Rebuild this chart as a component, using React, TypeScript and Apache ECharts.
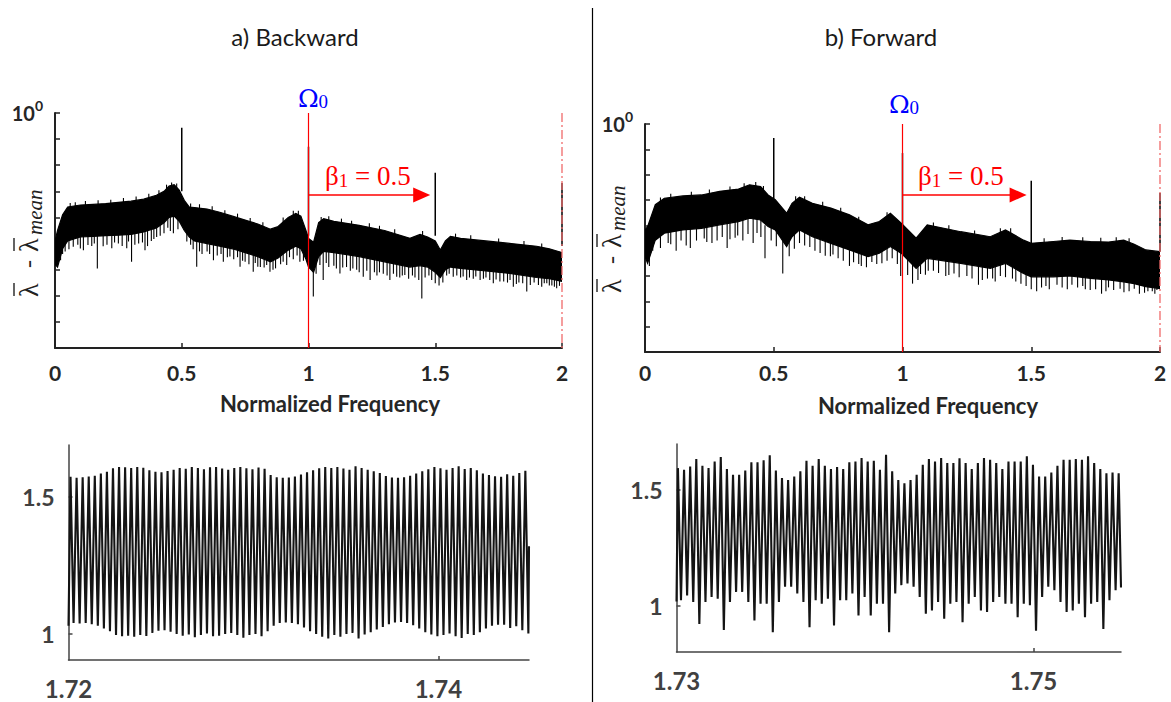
import React, { useEffect, useRef } from "react";
import * as echarts from "echarts";

const SANS = "Lato, 'Open Sans', sans-serif";
const SERIF = "'Liberation Serif', 'DejaVu Serif', serif";
const GREEK = "'DejaVu Serif', 'Liberation Serif', serif";

// ---------- top panels: spectra (log amplitude) ----------
const Y_MIN = 1e-9;
const Y_MAX = 1;
const FREQ_TICKS_INTERVAL = 0.5;

// a) Backward: dense band envelope
const bwBandFreq = [0, 0.01, 0.03, 0.05, 0.1, 0.15, 0.2, 0.25, 0.3, 0.35, 0.4, 0.43, 0.45, 0.47, 0.49, 0.51, 0.53, 0.55, 0.6, 0.65, 0.7, 0.75, 0.8, 0.85, 0.88, 0.92, 0.95, 0.97, 0.99, 1.0, 1.02, 1.04, 1.06, 1.1, 1.2, 1.3, 1.4, 1.44, 1.47, 1.5, 1.52, 1.54, 1.56, 1.6, 1.7, 1.8, 1.9, 1.95, 2.0];
const bwBandUpper = [1.26e-5, 3.16e-5, 1.26e-4, 2.51e-4, 3.0e-4, 3.16e-4, 3.4e-4, 3.8e-4, 4.2e-4, 5.0e-4, 7.1e-4, 1.0e-3, 1.58e-3, 1.78e-3, 1.12e-3, 4.5e-4, 2.5e-4, 2.4e-4, 2.1e-4, 1.58e-4, 1.12e-4, 7.9e-5, 5.6e-5, 3.55e-5, 4.5e-5, 1.0e-4, 1.41e-4, 1.12e-4, 3.16e-5, 1.58e-5, 1.12e-5, 6.3e-5, 8.9e-5, 7.1e-5, 5.0e-5, 3.16e-5, 1.58e-5, 2.24e-5, 1.78e-5, 1.26e-5, 5.6e-6, 1.26e-5, 1.9e-5, 1.58e-5, 1.26e-5, 1.0e-5, 7.9e-6, 6.3e-6, 4.5e-6];
const bwBandLower = [1.58e-6, 1.26e-6, 6.3e-6, 1.26e-5, 1.78e-5, 1.9e-5, 2.0e-5, 2.1e-5, 2.24e-5, 2.8e-5, 4.0e-5, 6.3e-5, 1.0e-4, 1.12e-4, 7.1e-5, 3.16e-5, 1.78e-5, 1.26e-5, 1.0e-5, 7.9e-6, 6.3e-6, 4.5e-6, 3.16e-6, 2.0e-6, 2.8e-6, 5.6e-6, 7.9e-6, 6.3e-6, 2.5e-6, 1.26e-6, 7.9e-7, 3.16e-6, 5.0e-6, 4.5e-6, 3.16e-6, 2.0e-6, 1.26e-6, 1.41e-6, 1.26e-6, 7.9e-7, 5.0e-7, 1.0e-6, 1.26e-6, 1.12e-6, 8.9e-7, 7.1e-7, 5.0e-7, 4.5e-7, 3.55e-7];
// downward noise spikes [freq, lowest value]
const bwSpikes = [[0.022, 2.3e-6], [0.03, 4e-6], [0.04, 5e-6], [0.055, 6e-6], [0.072, 7.6e-6], [0.09, 9e-6], [0.1, 6.5e-6], [0.112, 5.6e-6], [0.13, 8.9e-6], [0.145, 8e-6], [0.155, 1e-5], [0.167, 1.12e-6], [0.19, 7.9e-6], [0.205, 9e-6], [0.224, 6.6e-6], [0.235, 1.1e-5], [0.25, 1e-5], [0.265, 8e-6], [0.283, 6.6e-6], [0.29, 1.2e-5], [0.302, 2.0e-6], [0.315, 9e-6], [0.33, 1e-5], [0.345, 1.1e-5], [0.355, 5.6e-6], [0.365, 8e-6], [0.38, 1.26e-5], [0.39, 1.5e-5], [0.401, 1.8e-5], [0.415, 2e-5], [0.43, 2.5e-5], [0.445, 4e-5], [0.455, 3e-5], [0.467, 2.5e-5], [0.485, 3.5e-5], [0.52, 1.2e-5], [0.535, 9e-6], [0.545, 6e-6], [0.559, 1.3e-6], [0.57, 5e-6], [0.58, 4e-6], [0.6, 5e-6], [0.61, 4e-6], [0.625, 2.3e-6], [0.64, 3.5e-6], [0.655, 4e-6], [0.664, 2.0e-6], [0.68, 3e-6], [0.69, 3.2e-6], [0.705, 2.5e-6], [0.72, 3e-6], [0.73, 1.3e-6], [0.74, 2.2e-6], [0.75, 2e-6], [0.765, 1.6e-6], [0.782, 8.3e-7], [0.79, 1.8e-6], [0.8, 1.3e-6], [0.81, 1.26e-6], [0.825, 1.2e-6], [0.835, 1.5e-6], [0.848, 8.3e-7], [0.86, 1e-6], [0.87, 1.12e-6], [0.89, 1.6e-6], [0.9, 2e-6], [0.914, 1.5e-6], [0.925, 3e-6], [0.94, 2.5e-6], [0.955, 3.5e-6], [0.966, 2.0e-6], [0.98, 2.2e-6], [1.019, 9.3e-8], [1.03, 7e-7], [1.045, 1.5e-6], [1.058, 4.0e-7], [1.07, 1.8e-6], [1.08, 1.26e-6], [1.1, 1.4e-6], [1.11, 1.1e-6], [1.124, 7.2e-7], [1.135, 1.2e-6], [1.15, 1.26e-6], [1.165, 9e-7], [1.175, 1.1e-6], [1.19, 1e-6], [1.2, 8e-7], [1.216, 5.4e-7], [1.23, 9e-7], [1.243, 4.0e-7], [1.26, 8e-7], [1.27, 6e-7], [1.28, 7.9e-7], [1.295, 7e-7], [1.31, 6e-7], [1.321, 4.0e-7], [1.335, 7e-7], [1.348, 5.4e-7], [1.36, 5e-7], [1.37, 6e-7], [1.38, 6.3e-7], [1.395, 4.5e-7], [1.41, 6e-7], [1.42, 5e-7], [1.435, 4e-7], [1.447, 7.9e-8], [1.46, 5e-7], [1.475, 6e-7], [1.486, 4.0e-7], [1.5, 3e-7], [1.515, 2.5e-7], [1.53, 3.2e-7], [1.545, 6e-7], [1.555, 7e-7], [1.571, 5.4e-7], [1.585, 6e-7], [1.6, 5e-7], [1.61, 5.5e-7], [1.624, 4.0e-7], [1.635, 5e-7], [1.65, 4.5e-7], [1.66, 5.5e-7], [1.677, 4.0e-7], [1.69, 4.5e-7], [1.7, 5e-7], [1.715, 4e-7], [1.729, 3.0e-7], [1.74, 4.2e-7], [1.755, 3.5e-7], [1.77, 3.55e-7], [1.785, 3.2e-7], [1.795, 4e-7], [1.808, 2.2e-7], [1.82, 2.8e-7], [1.83, 3.2e-7], [1.845, 3e-7], [1.861, 1.45e-7], [1.875, 2.6e-7], [1.89, 3.2e-7], [1.907, 2.6e-7], [1.92, 2.2e-7], [1.93, 3e-7], [1.94, 3.0e-7], [1.95, 2.5e-7], [1.96, 2.5e-7], [1.97, 2.2e-7], [1.979, 1.95e-7], [1.99, 2.4e-7]];
// ragged upper edge [freq, highest value]
const bwFuzz = [[0.06, 3.6e-4], [0.08, 3.8e-4], [0.12, 4.3e-4], [0.17, 4.6e-4], [0.22, 4.8e-4], [0.27, 5.6e-4], [0.32, 6.3e-4], [0.37, 8.0e-4], [0.41, 1.1e-3], [0.44, 1.8e-3], [0.46, 2.2e-3], [0.48, 2.0e-3], [0.535, 3.4e-4], [0.57, 3.2e-4], [0.62, 2.7e-4], [0.67, 1.9e-4], [0.72, 1.4e-4], [0.77, 9.5e-5], [0.82, 6.5e-5], [0.9, 1.0e-4], [0.94, 1.8e-4], [0.96, 1.8e-4], [1.05, 1.05e-4], [1.08, 1.1e-4], [1.13, 9e-5], [1.17, 7.5e-5], [1.24, 6e-5], [1.28, 4.8e-5], [1.34, 3.5e-5], [1.45, 3e-5], [1.58, 2.4e-5], [1.64, 2.1e-5], [1.75, 1.55e-5], [1.85, 1.25e-5], [1.92, 1e-5]];
// harmonic lines [freq, top, bottom]
const bwHarmonics = [[0.5, 0.27, 1e-3], [1.0, 0.051, 2e-5], [1.5, 5.2e-3, 2e-5], [2.0, 2.1e-3, 8e-6]];
// arrow [start freq, tip freq, level]
const bwArrow = [[1.0, 1.48, 7.2e-4]];

// b) Forward
const fwBandFreq = [0, 0.01, 0.04, 0.075, 0.147, 0.219, 0.29, 0.363, 0.406, 0.449, 0.478, 0.506, 0.55, 0.571, 0.6, 0.65, 0.722, 0.794, 0.866, 0.91, 0.953, 0.996, 1.053, 1.096, 1.226, 1.341, 1.4, 1.47, 1.5, 1.586, 1.65, 1.73, 1.8, 1.859, 1.9, 1.945, 2.0];
const fwBandUpper = [6.6e-5, 8.9e-5, 6.5e-4, 1.17e-3, 1.45e-3, 1.58e-3, 2.2e-3, 2.7e-3, 4.0e-3, 3.4e-3, 1.58e-3, 1.02e-3, 3.0e-4, 7.4e-4, 1.29e-3, 7.4e-4, 4.8e-4, 2.6e-4, 1.05e-4, 1.41e-4, 3.0e-4, 1.2e-4, 3.1e-5, 1.05e-4, 5.6e-5, 3.55e-5, 6.6e-5, 2.6e-5, 1.95e-5, 2.3e-5, 2.6e-5, 2.3e-5, 2.2e-5, 2.6e-5, 1.8e-5, 1.07e-5, 9.1e-6];
const fwBandLower = [5.8e-6, 3.16e-6, 2.6e-5, 4.9e-5, 6.6e-5, 7.6e-5, 1.05e-4, 1.41e-4, 1.9e-4, 1.62e-4, 8.9e-5, 6.6e-5, 1.45e-5, 3.55e-5, 6.6e-5, 3.55e-5, 1.95e-5, 1.07e-5, 5.8e-6, 7.9e-6, 1.45e-5, 7.8e-6, 2.0e-6, 5.0e-6, 3.16e-6, 2.0e-6, 3.16e-6, 1.26e-6, 9.3e-7, 9.3e-7, 1.0e-6, 8.1e-7, 7.0e-7, 5.9e-7, 5.0e-7, 3.8e-7, 3.2e-7];
const fwSpikes = [[0.017, 2.5e-6], [0.03, 1e-5], [0.06, 1.26e-5], [0.09, 2e-5], [0.1, 1.8e-5], [0.121, 1.0e-5], [0.14, 2.5e-5], [0.16, 1.6e-5], [0.176, 1.26e-5], [0.2, 2.5e-5], [0.23, 3e-5], [0.24, 2.2e-5], [0.26, 2e-5], [0.28, 2.5e-5], [0.3, 3.5e-5], [0.319, 1.26e-5], [0.33, 2.8e-5], [0.35, 3.2e-5], [0.36, 4e-5], [0.38, 2.5e-5], [0.4, 4.5e-5], [0.42, 2.0e-5], [0.435, 5e-5], [0.45, 3.5e-5], [0.466, 5.0e-6], [0.49, 2.5e-5], [0.51, 1.5e-5], [0.535, 1.26e-6], [0.56, 6e-6], [0.58, 1.2e-5], [0.6, 2e-5], [0.62, 1.6e-5], [0.64, 1.4e-5], [0.66, 1e-5], [0.68, 8e-6], [0.7, 6.3e-6], [0.72, 6e-6], [0.73, 7e-6], [0.75, 5e-6], [0.77, 4e-6], [0.794, 2.5e-6], [0.81, 3.5e-6], [0.83, 3e-6], [0.84, 2.5e-6], [0.86, 2.2e-6], [0.881, 3.55e-6], [0.9, 3e-6], [0.92, 3.2e-6], [0.94, 4e-6], [0.96, 5e-6], [0.98, 3e-6], [0.993, 1.0e-6], [1.02, 1.1e-6], [1.039, 5.0e-7], [1.06, 7e-7], [1.07, 1.2e-6], [1.089, 1.12e-6], [1.1, 1.6e-6], [1.12, 1.6e-6], [1.14, 1.3e-6], [1.168, 1.0e-6], [1.18, 1.1e-6], [1.2, 1.26e-6], [1.22, 9e-7], [1.25, 1e-6], [1.27, 8e-7], [1.295, 4.5e-7], [1.31, 7e-7], [1.33, 7.9e-7], [1.35, 8e-7], [1.36, 6e-7], [1.38, 1e-6], [1.4, 9e-7], [1.427, 7.9e-7], [1.44, 6e-7], [1.46, 5e-7], [1.48, 4e-7], [1.5, 3e-7], [1.521, 2.5e-7], [1.54, 3.5e-7], [1.557, 4.0e-7], [1.57, 3e-7], [1.6, 4.5e-7], [1.62, 3.5e-7], [1.64, 3e-7], [1.658, 4.5e-7], [1.68, 3.5e-7], [1.7, 4e-7], [1.71, 3e-7], [1.729, 2.8e-7], [1.75, 3e-7], [1.773, 2.0e-7], [1.79, 2.5e-7], [1.8, 3.55e-7], [1.82, 2.8e-7], [1.845, 3.16e-7], [1.86, 2.3e-7], [1.88, 2.5e-7], [1.9, 3.16e-7], [1.92, 2e-7], [1.94, 2.2e-7], [1.953, 2.5e-7], [1.97, 2.5e-7], [1.98, 2e-7], [1.988, 2.8e-7]];
const fwFuzz = [[0.06, 1.25e-3], [0.1, 1.75e-3], [0.18, 2.1e-3], [0.25, 2.6e-3], [0.33, 3.4e-3], [0.385, 4.6e-3], [0.43, 5.1e-3], [0.46, 3.6e-3], [0.585, 1.4e-3], [0.62, 1.4e-3], [0.69, 8.5e-4], [0.76, 4.9e-4], [0.83, 2.2e-4], [0.94, 3.3e-4], [1.12, 1.3e-4], [1.18, 1.0e-4], [1.28, 6.3e-5], [1.38, 7.7e-5], [1.42, 7.7e-5], [1.55, 3.1e-5], [1.62, 3.5e-5], [1.7, 3.4e-5], [1.77, 3.2e-5], [1.83, 3.4e-5], [1.88, 3.1e-5]];
const fwHarmonics = [[0.5, 0.28, 1e-3], [1.0, 0.071, 1e-4], [1.5, 5.7e-3, 2e-5], [2.0, 1.9e-3, 9e-6]];
const fwArrow = [[1.0, 1.482, 1.58e-3]];

const markerFreqs = [1.0];
const nyquistFreqs = [2.0];

// ---------- bottom panels: time signal zooms ----------
const bwZoomTicks = [1.72, 1.74];
const fwZoomTicks = [1.73, 1.75];
const zoomValueTicks = [1, 1.5];

const bwZoomStart = [1.72, 1.03];
const bwZoomFirstPeak = 1.72011;
const bwZoomPeriod = 0.0003279;
const bwZoomEnd = [1.7449, 1.32];
const bwZoomPeaks = [
  1.574, 1.570, 1.572, 1.575, 1.578, 1.586, 1.592,
  1.605, 1.610, 1.609, 1.606, 1.610, 1.607,
  1.598, 1.592, 1.590, 1.595,
  1.600, 1.606, 1.603, 1.610, 1.606, 1.601, 1.609, 1.610, 1.604, 1.600, 1.606, 1.610, 1.605, 1.601, 1.608, 1.603,
  1.580, 1.572, 1.570, 1.571, 1.575, 1.582,
  1.590, 1.598, 1.605, 1.610,
  1.606, 1.610, 1.604, 1.600, 1.612, 1.606, 1.600,
  1.594, 1.588,
  1.577, 1.571, 1.570, 1.572, 1.578,
  1.586, 1.594, 1.601,
  1.610, 1.605, 1.600, 1.606, 1.612, 1.602, 1.606, 1.598,
  1.586, 1.580, 1.576,
  1.574, 1.583, 1.578, 1.588, 1.596,
];
const bwZoomTroughs = [
  1.040, 1.038, 1.040, 1.036, 1.030, 1.020, 1.010,
  0.996, 0.992, 0.994, 0.990, 0.996, 0.993,
  1.004, 1.012, 1.014, 1.008,
  1.000, 0.994, 0.998, 0.988, 0.996, 1.002, 0.992, 0.994, 1.000, 1.004, 0.996, 0.986, 0.996, 1.000, 0.992, 1.010,
  1.030, 1.040, 1.042, 1.040, 1.036, 1.024,
  1.010, 1.000, 0.990, 0.984,
  0.996, 0.990, 1.000, 1.004, 0.984, 0.998, 1.006,
  1.016, 1.026,
  1.036, 1.042, 1.044, 1.040, 1.032,
  1.020, 1.006, 0.998,
  0.992, 0.996, 1.002, 0.992, 0.985, 1.000, 0.996, 1.006,
  1.020, 1.030, 1.034,
  1.034, 1.022, 1.028, 1.014, 1.002,
];

const fwZoomStart = [1.73, 1.02];
const fwZoomFirstPeak = 1.73008;
const fwZoomPeriod = 0.0003429;
const fwZoomEnd = [1.7549, 1.08];
const fwZoomPeaks = [
  1.594, 1.587, 1.601, 1.633, 1.604, 1.594, 1.623, 1.642, 1.590, 1.565,
  1.565, 1.584, 1.619, 1.619, 1.628, 1.649, 1.584, 1.551, 1.543, 1.558,
  1.580, 1.626, 1.604, 1.633, 1.604, 1.590, 1.599, 1.590, 1.619, 1.623,
  1.638, 1.623, 1.626, 1.587, 1.652, 1.580, 1.543, 1.529, 1.543, 1.565,
  1.609, 1.633, 1.623, 1.638, 1.616, 1.616, 1.636, 1.616, 1.590, 1.616,
  1.638, 1.630, 1.616, 1.590, 1.623, 1.623, 1.623, 1.645, 1.609, 1.558,
  1.558, 1.575, 1.604, 1.630, 1.630, 1.633, 1.630, 1.645, 1.616, 1.590,
  1.572, 1.575, 1.572,
];
const fwZoomTroughs = [
  1.025, 1.046, 1.017, 0.923, 1.017, 1.039, 1.032, 0.897, 1.017, 1.061,
  1.061, 1.017, 0.938, 1.010, 1.010, 0.887, 1.017, 1.083, 1.083, 1.054,
  1.017, 0.909, 1.025, 1.010, 1.032, 0.916, 1.025, 1.025, 1.054, 0.959,
  1.039, 0.959, 1.010, 1.010, 0.887, 1.054, 1.090, 1.097, 1.083, 1.039,
  0.967, 0.981, 1.017, 0.945, 1.010, 1.017, 0.930, 1.010, 1.039, 0.981,
  0.974, 1.017, 1.039, 1.010, 1.010, 0.952, 1.010, 1.003, 0.894, 1.039,
  1.083, 1.068, 1.017, 0.974, 0.981, 1.010, 0.952, 1.010, 1.017, 0.901,
  1.025, 1.068,
];

function buildSignal(start: number[], firstPeak: number, period: number, peaks: number[], troughs: number[], end: number[]) {
  const pts: number[][] = [start];
  for (let i = 0; i < peaks.length; i++) {
    const t = firstPeak + i * period;
    pts.push([t, peaks[i]]);
    if (i < troughs.length) pts.push([t + period / 2, troughs[i]]);
  }
  pts.push(end);
  return pts;
}

// ---------- layout ----------
const GRIDS = [
  { left: 55, top: 113, width: 507, height: 235 },
  { left: 645, top: 124, width: 515, height: 228 },
  { left: 68.5, top: 445, width: 460.5, height: 215 },
  { left: 676.5, top: 444, width: 444.5, height: 208 },
];

function bandSeries(idx: number, freq: number[], upper: number[], lower: number[]) {
  return {
    type: "custom",
    coordinateSystem: "cartesian2d",
    xAxisIndex: idx,
    yAxisIndex: idx,
    data: freq.map((f, i) => [f, upper[i], lower[i]]),
    encode: { x: 0, y: 1 },
    clip: true,
    silent: true,
    z: 2,
    renderItem: (params: any, api: any) => {
      if (params.dataIndex !== 0) return null;
      const pts: number[][] = [];
      for (let i = 0; i < freq.length; i++) pts.push(api.coord([freq[i], upper[i]]));
      for (let i = freq.length - 1; i >= 0; i--) pts.push(api.coord([freq[i], lower[i]]));
      return { type: "polygon", shape: { points: pts }, style: { fill: "#000", stroke: "#000", lineWidth: 1.2 } };
    },
  };
}

// vertical noise strokes: from the given value, reaching `reach` (multiplicative) toward the band
function strokeSeries(idx: number, rows: number[][], reach: number) {
  return {
    type: "custom",
    coordinateSystem: "cartesian2d",
    xAxisIndex: idx,
    yAxisIndex: idx,
    data: rows,
    encode: { x: 0, y: 1 },
    clip: true,
    silent: true,
    z: 2,
    renderItem: (params: any, api: any) => {
      const f = api.value(0);
      const v = api.value(1);
      const a = api.coord([f, v]);
      const b = api.coord([f, v * reach]);
      return { type: "line", shape: { x1: a[0], y1: a[1], x2: b[0], y2: b[1] }, style: { stroke: "#000", lineWidth: 1.1 } };
    },
  };
}

function harmonicSeries(idx: number, rows: number[][]) {
  return {
    type: "custom",
    coordinateSystem: "cartesian2d",
    xAxisIndex: idx,
    yAxisIndex: idx,
    data: rows,
    encode: { x: 0, y: 1 },
    clip: false,
    silent: true,
    z: 3,
    renderItem: (params: any, api: any) => {
      const f = api.value(0);
      const a = api.coord([f, api.value(1)]);
      const b = api.coord([f, api.value(2)]);
      return { type: "line", shape: { x1: a[0], y1: a[1], x2: b[0], y2: b[1] }, style: { stroke: "#000", lineWidth: 1.5 } };
    },
  };
}

function vLineSeries(idx: number, freqs: number[], color: string, dash: number[] | null, width: number) {
  return {
    type: "custom",
    coordinateSystem: "cartesian2d",
    xAxisIndex: idx,
    yAxisIndex: idx,
    data: freqs.map((f) => [f, Y_MAX]),
    encode: { x: 0, y: 1 },
    clip: false,
    silent: true,
    z: 4,
    renderItem: (params: any, api: any) => {
      const f = api.value(0);
      const a = api.coord([f, Y_MAX]);
      const b = api.coord([f, Y_MIN]);
      const style: any = { stroke: color, lineWidth: width };
      if (dash) style.lineDash = dash;
      return { type: "line", shape: { x1: a[0], y1: a[1], x2: b[0], y2: b[1] }, style };
    },
  };
}

function arrowSeries(idx: number, rows: number[][]) {
  return {
    type: "custom",
    coordinateSystem: "cartesian2d",
    xAxisIndex: idx,
    yAxisIndex: idx,
    data: rows,
    encode: { x: [0, 1], y: 2 },
    clip: false,
    silent: true,
    z: 5,
    renderItem: (params: any, api: any) => {
      const lvl = api.value(2);
      const s = api.coord([api.value(0), lvl]);
      const t = api.coord([api.value(1), lvl]);
      const L = 17;
      const hw = 7.5;
      return {
        type: "group",
        children: [
          { type: "line", shape: { x1: s[0], y1: s[1], x2: t[0] - L + 1, y2: t[1] }, style: { stroke: "#ff0000", lineWidth: 1.6 } },
          { type: "polygon", shape: { points: [[t[0], t[1]], [t[0] - L, t[1] - hw], [t[0] - L, t[1] + hw]] }, style: { fill: "#ff0000" } },
        ],
      };
    },
  };
}

function topX(idx: number, margin: number) {
  return {
    type: "value",
    gridIndex: idx,
    min: 0,
    max: 2,
    interval: FREQ_TICKS_INTERVAL,
    axisLine: { show: true, onZero: false, lineStyle: { color: "#222", width: 2 } },
    axisTick: { show: true, inside: true, length: 5, lineStyle: { color: "#222", width: 1.5 } },
    axisLabel: { margin, fontSize: 21, fontWeight: "bold", fontFamily: SANS, color: "#262626" },
    splitLine: { show: false },
  };
}

function topY(idx: number, margin: number) {
  return {
    type: "log",
    gridIndex: idx,
    logBase: 10,
    min: Y_MIN,
    max: Y_MAX,
    interval: 1,
    splitNumber: 9,
    axisLine: { show: true, onZero: false, lineStyle: { color: "#222", width: 2 } },
    axisTick: { show: true, inside: true, length: 5, lineStyle: { color: "#222", width: 1.5 } },
    axisLabel: {
      margin,
      formatter: (v: number) => (Math.abs(v - 1) < 1e-6 ? "{b|10}{s|0}" : ""),
      rich: {
        b: { fontSize: 20, fontWeight: "bold", fontFamily: SANS, color: "#262626", lineHeight: 30 },
        s: { fontSize: 14, fontWeight: "bold", fontFamily: SANS, color: "#262626", lineHeight: 14, verticalAlign: "top" },
      },
    },
    splitLine: { show: false },
  };
}

function zoomX(idx: number, min: number, max: number, ticks: number[]) {
  return {
    type: "value",
    gridIndex: idx,
    min,
    max,
    axisLine: { show: true, onZero: false, lineStyle: { color: "#444", width: 1.5 } },
    axisTick: { show: true, inside: true, length: 4, customValues: [ticks[1]], lineStyle: { color: "#444", width: 1.5 } },
    axisLabel: {
      customValues: ticks,
      margin: 16,
      fontSize: 24,
      fontWeight: "bold",
      fontFamily: SANS,
      color: "#404040",
      formatter: (v: number) => (ticks.some((c) => Math.abs(c - v) < 1e-7) ? v.toFixed(2) : ""),
    },
    splitLine: { show: false },
  };
}

function zoomY(idx: number, min: number, max: number) {
  return {
    type: "value",
    gridIndex: idx,
    min,
    max,
    axisLine: { show: true, onZero: false, lineStyle: { color: "#444", width: 1.5 } },
    axisTick: { show: true, inside: true, length: 4, customValues: zoomValueTicks, lineStyle: { color: "#444", width: 1.5 } },
    axisLabel: {
      customValues: zoomValueTicks,
      margin: 14,
      fontSize: 23,
      fontWeight: "bold",
      fontFamily: SANS,
      color: "#404040",
      formatter: (v: number) => (zoomValueTicks.some((c) => Math.abs(c - v) < 1e-7) ? String(v) : ""),
    },
    splitLine: { show: false },
  };
}

function signalSeries(idx: number, data: number[][]) {
  return {
    type: "line",
    xAxisIndex: idx,
    yAxisIndex: idx,
    data,
    showSymbol: false,
    symbol: "none",
    clip: true,
    silent: true,
    lineStyle: { color: "#141414", width: 2.1, join: "miter" },
    z: 2,
  };
}

function textEl(x: number, y: number, text: string, extra: any) {
  return { type: "text", x, y, z: 100, style: Object.assign({ text, align: "center", verticalAlign: "middle" }, extra) };
}

function omegaEl(x: number, y: number) {
  return textEl(x, y, "{o|Ω}{s|0}", {
    fill: "#0000ff",
    rich: {
      o: { fontSize: 25, fontFamily: GREEK, fill: "#0000ff", lineHeight: 26 },
      s: { fontSize: 19, fontFamily: SERIF, fill: "#0000ff", lineHeight: 12, verticalAlign: "bottom" },
    },
  });
}

function betaEl(x: number, y: number) {
  return {
    type: "text",
    x,
    y,
    z: 100,
    style: {
      text: "{b|β}{s|1}{t| = 0.5}",
      align: "left",
      verticalAlign: "middle",
      fill: "#ff0000",
      rich: {
        b: { fontSize: 27, fontFamily: SERIF, fill: "#ff0000", lineHeight: 28 },
        s: { fontSize: 19, fontFamily: SERIF, fill: "#ff0000", lineHeight: 8, verticalAlign: "bottom" },
        t: { fontSize: 27, fontFamily: SERIF, fill: "#ff0000", lineHeight: 28 },
      },
    },
  };
}

// rotated y-axis name: λ̄ - λ̄_mean, with bars drawn as lines
function yNameEl(x: number, y: number) {
  const col = "#222";
  const lam = { fontSize: 28, fontFamily: SERIF, fill: col, align: "left", verticalAlign: "middle" };
  return {
    type: "group",
    x,
    y,
    rotation: Math.PI / 2,
    z: 100,
    children: [
      { type: "text", x: -54, y: 0, style: Object.assign({ text: "λ" }, lam) },
      { type: "line", shape: { x1: -53, y1: -14, x2: -40, y2: -14 }, style: { stroke: col, lineWidth: 1.4 } },
      { type: "text", x: -25, y: 0, style: { text: "-", fontSize: 24, fontFamily: SERIF, fill: col, align: "left", verticalAlign: "middle" } },
      { type: "text", x: -9, y: 0, style: Object.assign({ text: "λ" }, lam) },
      { type: "line", shape: { x1: -8, y1: -14, x2: 5, y2: -14 }, style: { stroke: col, lineWidth: 1.4 } },
      { type: "text", x: 8, y: 7, style: { text: "mean", fontSize: 21, fontStyle: "italic", fontFamily: SERIF, fill: col, align: "left", verticalAlign: "middle" } },
    ],
  };
}

export default function App() {
  const ref = useRef<HTMLDivElement>(null);

  useEffect(() => {
    if (!ref.current) return;
    const chart = echarts.init(ref.current, undefined, { renderer: "svg" });

    const bwSignal = buildSignal(bwZoomStart, bwZoomFirstPeak, bwZoomPeriod, bwZoomPeaks, bwZoomTroughs, bwZoomEnd);
    const fwSignal = buildSignal(fwZoomStart, fwZoomFirstPeak, fwZoomPeriod, fwZoomPeaks, fwZoomTroughs, fwZoomEnd);

    const option: any = {
      animation: false,
      backgroundColor: "#ffffff",
      grid: GRIDS,
      xAxis: [topX(0, 14), topX(1, 10), zoomX(2, 1.72, 1.7449, bwZoomTicks), zoomX(3, 1.73, 1.7549, fwZoomTicks)],
      yAxis: [topY(0, 12), topY(1, 12), zoomY(2, 0.905, 1.69), zoomY(3, 0.802, 1.698)],
      series: [
        bandSeries(0, bwBandFreq, bwBandUpper, bwBandLower),
        strokeSeries(0, bwSpikes, 20),
        strokeSeries(0, bwFuzz, 0.05),
        harmonicSeries(0, bwHarmonics),
        vLineSeries(0, markerFreqs, "#ff0000", null, 1.2),
        vLineSeries(0, nyquistFreqs, "#f06a6a", [9, 3, 2, 3], 1.3),
        arrowSeries(0, bwArrow),
        bandSeries(1, fwBandFreq, fwBandUpper, fwBandLower),
        strokeSeries(1, fwSpikes, 20),
        strokeSeries(1, fwFuzz, 0.05),
        harmonicSeries(1, fwHarmonics),
        vLineSeries(1, markerFreqs, "#ff0000", null, 1.2),
        vLineSeries(1, nyquistFreqs, "#f06a6a", [9, 3, 2, 3], 1.3),
        arrowSeries(1, fwArrow),
        signalSeries(2, bwSignal),
        signalSeries(3, fwSignal),
      ],
      graphic: [
        { type: "line", z: 100, shape: { x1: 592.5, y1: 8, x2: 592.5, y2: 702 }, style: { stroke: "#000", lineWidth: 1.2 } },
        textEl(295, 36, "a) Backward", { fontSize: 24, fontFamily: SANS, fill: "#1a1a1a" }),
        textEl(881, 36, "b) Forward", { fontSize: 24, fontFamily: SANS, fill: "#1a1a1a" }),
        textEl(330, 403, "Normalized Frequency", { fontSize: 22, fontWeight: "bold", fontFamily: SANS, fill: "#262626" }),
        textEl(928, 405, "Normalized Frequency", { fontSize: 22, fontWeight: "bold", fontFamily: SANS, fill: "#262626" }),
        omegaEl(313, 98),
        omegaEl(904, 104),
        betaEl(325, 176),
        betaEl(918, 176),
        yNameEl(28, 243),
        yNameEl(611, 239),
      ],
    };

    chart.setOption(option);
    return () => chart.dispose();
  }, []);

  return (
    <div
      ref={ref}
      style={{ position: "fixed", left: 0, top: 0, width: 1171, height: 702, background: "#fff" }}
    />
  );
}
